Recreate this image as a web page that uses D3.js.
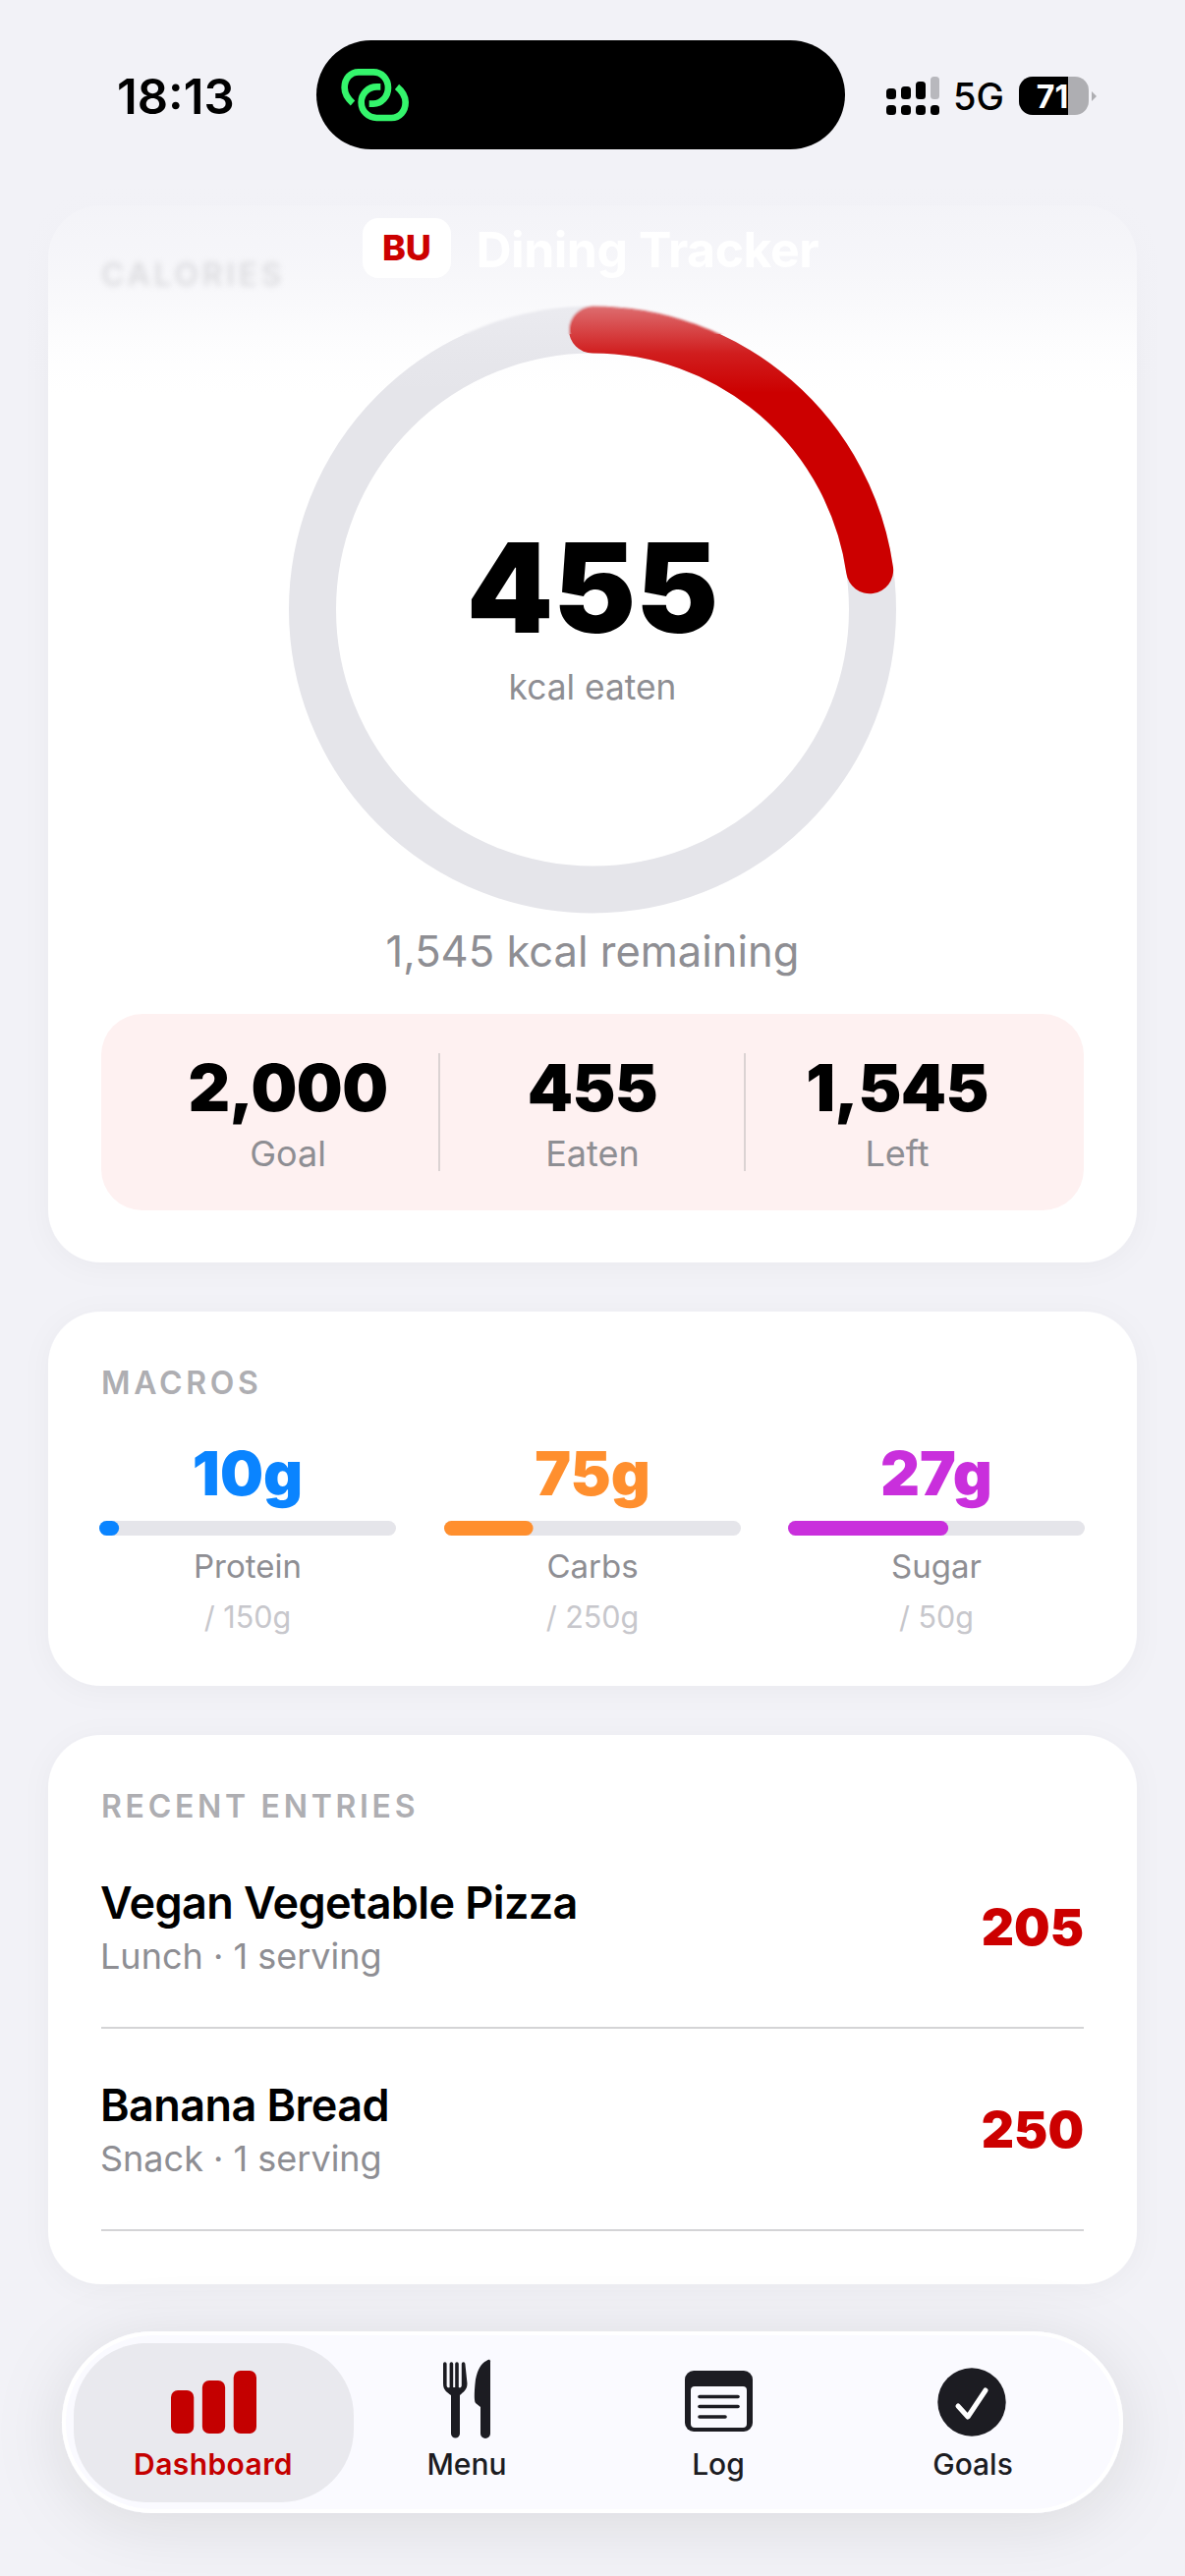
<!DOCTYPE html>
<html><head><meta charset="utf-8">
<script src="https://cdn.jsdelivr.net/npm/d3@7/dist/d3.min.js"></script>
<style>html,body{margin:0;padding:0;background:#f2f2f7;overflow:hidden}svg{display:block}text{font-family:Inter,"Noto Sans",sans-serif}</style>
</head><body><svg id="c" width="1206" height="2622" viewBox="0 0 1206 2622"></svg>
<script>
const calorieGoal = 2000;
const calorieEaten = 455;
const calorieLeft = 1545;
const summaryLabels = ["Goal","Eaten","Left"];
const summaryValues = [2000,455,1545];
const macroNames = ["Protein","Carbs","Sugar"];
const macroValues = [10,75,27];
const macroGoals = [150,250,50];
const macroColors = ["#0a84ff","#ff8f2e","#c92fdc"];
const entryNames = ["Vegan Vegetable Pizza","Banana Bread"];
const entryMeals = ["Lunch · 1 serving","Snack · 1 serving"];
const entryCalories = [205,250];
const tabLabels = ["Dashboard","Menu","Log","Goals"];
const dashBars = [44,54,64];

const W=1206,H=2622,RED="#cc0000",GREY="#8e8e93",BG="#f2f2f7",INK="#1c1c22";
const fmt=d3.format(",");
const svg=d3.select("#c");
const defs=svg.append("defs");
function T(p,x,y,s,size,weight,fill,anchor,ls){
  return p.append("text").attr("x",x).attr("y",y).text(s)
   .attr("font-size",size).attr("font-weight",weight).attr("fill",fill)
   .attr("text-anchor",anchor||"start").attr("letter-spacing",ls||0);
}
// filters
const sh=(id,dy,sd,op)=>{const f=defs.append("filter").attr("id",id).attr("x","-30%").attr("y","-50%").attr("width","160%").attr("height","200%");
 f.append("feDropShadow").attr("dx",0).attr("dy",dy).attr("stdDeviation",sd).attr("flood-color","#000").attr("flood-opacity",op);};
sh("cardS",4,14,0.035); sh("tabS",10,34,0.10);
defs.append("filter").attr("id","blurA").attr("x","-20%").attr("y","-50%").attr("width","140%").attr("height","200%").append("feGaussianBlur").attr("stdDeviation",3.2);
defs.append("filter").attr("id","blurB").attr("filterUnits","userSpaceOnUse").attr("x",200).attr("y",250).attr("width",800).attr("height",200).append("feGaussianBlur").attr("stdDeviation",1.2);
defs.append("clipPath").attr("id","upper").append("rect").attr("x",200).attr("y",250).attr("width",800).attr("height",90);
defs.append("clipPath").attr("id","lower").append("rect").attr("x",200).attr("y",340).attr("width",800).attr("height",700);
const fade=defs.append("linearGradient").attr("id","fade").attr("x1",0).attr("x2",0).attr("y1",0).attr("y2",1);
[[0,1],[0.45,0.97],[0.52,0.90],[0.66,0.70],[0.78,0.45],[0.90,0.12],[1,0]].forEach(s=>fade.append("stop").attr("offset",s[0]).attr("stop-color",BG).attr("stop-opacity",s[1]));

svg.append("rect").attr("width",W).attr("height",H).attr("fill",BG);

// cards
[[209,1285],[1335,1716],[1766,2325]].forEach(c=>svg.append("rect").attr("x",49).attr("y",c[0]).attr("width",1108).attr("height",c[1]-c[0]).attr("rx",54).attr("fill","#fff").attr("filter","url(#cardS)"));

// ring
const CX=603,CY=620.5,R=285,SW=48;
const angle=d3.scaleLinear().domain([0,calorieGoal]).range([-Math.PI/2,1.5*Math.PI]);
const arcD=v=>{const p=d3.path();p.arc(CX,CY,R,angle(0),angle(v));return p.toString();};
function ring(g){
  g.append("circle").attr("cx",CX).attr("cy",CY).attr("r",R).attr("fill","none").attr("stroke","#e5e5ea").attr("stroke-width",SW);
  g.append("path").attr("d",arcD(calorieEaten)).attr("fill","none").attr("stroke",RED).attr("stroke-width",SW).attr("stroke-linecap","round");
}
ring(svg.append("g").attr("clip-path","url(#lower)"));
ring(svg.append("g").attr("clip-path","url(#upper)").append("g").attr("filter","url(#blurB)"));

// top fade overlay
svg.append("rect").attr("x",0).attr("y",0).attr("width",W).attr("height",400).attr("fill","url(#fade)");
T(svg,103,291,"CALORIES",32,600,"#aeaeb2","start",3.7).attr("filter","url(#blurA)").attr("opacity",0.38);

// header
svg.append("rect").attr("x",369).attr("y",222).attr("width",90).attr("height",61).attr("rx",16).attr("fill","#fff");
T(svg,414,265,"BU",36,800,RED,"middle");
T(svg,484.5,272,"Dining Tracker",50,700,"#ffffff","start",-0.5);

// ring centre
T(svg,603,644,fmt(calorieEaten),126,900,"#000","middle");
T(svg,603,712,"kcal eaten",35.3,400,GREY,"middle");
T(svg,603,984,fmt(calorieLeft)+" kcal remaining",43.5,400,GREY,"middle");

// summary box
svg.append("rect").attr("x",103).attr("y",1032).attr("width",1000).attr("height",200).attr("rx",42).attr("fill","#fef1f1");
const sumX=d3.scalePoint().domain(summaryLabels).range([293,913]);
summaryLabels.forEach((l,i)=>{
  T(svg,sumX(l),1131,fmt(summaryValues[i]),66,900,"#000","middle",-0.6);
  T(svg,sumX(l),1187,l,36,400,GREY,"middle");
});
[447,758].forEach(x=>svg.append("line").attr("x1",x).attr("x2",x).attr("y1",1072).attr("y2",1192).attr("stroke","#cfc8c9").attr("stroke-width",1.5));

// macros
T(svg,103,1419,"MACROS",32,600,"#aeaeb2","start",3.7);
const macroX=[101,452,802],trackW=302;
macroNames.forEach((n,i)=>{
  const x0=macroX[i],cx=x0+trackW/2;
  const sc=d3.scaleLinear().domain([0,macroGoals[i]]).range([0,trackW]);
  T(svg,cx,1522,macroValues[i]+"g",62,900,macroColors[i],"middle");
  svg.append("rect").attr("x",x0).attr("y",1548).attr("width",trackW).attr("height",15).attr("rx",7.5).attr("fill","#e5e5ea");
  svg.append("rect").attr("x",x0).attr("y",1548).attr("width",sc(macroValues[i])).attr("height",15).attr("rx",7.5).attr("fill",macroColors[i]);
  T(svg,cx,1606,n,33,400,GREY,"middle");
  T(svg,cx,1657,"/ "+macroGoals[i]+"g",30.5,400,"#c7c7cc","middle");
});

// recent
T(svg,103,1850,"RECENT ENTRIES",32,600,"#aeaeb2","start",3.7);
const entryY=d3.scalePoint().domain(entryNames).range([0,206]);
entryNames.forEach((n,i)=>{
  const d=entryY(n);
  T(svg,102,1953+d,n,45,600,"#000","start",-0.6);
  T(svg,102,2004+d,entryMeals[i],36,400,GREY);
  T(svg,1103,1980+d,fmt(entryCalories[i]),51.5,900,RED,"end");
  svg.append("line").attr("x1",103).attr("x2",1103).attr("y1",2064+d).attr("y2",2064+d).attr("stroke","#c6c6c8").attr("stroke-width",1.5);
});

// tab bar
svg.append("rect").attr("x",63).attr("y",2373).attr("width",1080).attr("height",185).attr("rx",92.5).attr("fill","#fafaff").attr("filter","url(#tabS)");
svg.append("rect").attr("x",65).attr("y",2375).attr("width",1076).attr("height",181).attr("rx",90.5).attr("fill","none").attr("stroke","#fff").attr("stroke-width",4);
svg.append("rect").attr("x",75).attr("y",2385).attr("width",285).attr("height",162).attr("rx",74).attr("fill","#e9e9ee");
const tabX=[217,475,731,990];
tabLabels.forEach((l,i)=>T(svg,tabX[i],2519,l,30,i?500:600,i?INK:"#c40000","middle",i?0:0.4));
// dashboard icon
const barX=d3.scaleBand().domain(d3.range(dashBars.length)).range([174,261]).paddingInner(0.27);
dashBars.forEach((h,i)=>svg.append("rect").attr("x",barX(i)).attr("y",2477-h).attr("width",barX.bandwidth()).attr("height",h).attr("rx",7).attr("fill","#c40000"));
// fork & knife
svg.append("path").attr("fill",INK).attr("d","M451,2406a1.8,1.8 0 0 1 3.6,0V2428a2,2 0 0 0 3,2V2406a1.8,1.8 0 0 1 3.6,0V2430h2V2406a1.8,1.8 0 0 1 3.6,0V2430a2,2 0 0 0 3,-2V2406a1.8,1.8 0 0 1 3.6,0L475.5,2426C475.5,2433 471,2435 468,2438V2477a4.5,4.5 0 0 1 -9,0V2438C455,2435 451,2433 451,2426Z");
svg.append("path").attr("fill",INK).attr("d","M498.5,2402a2.5,2.5 0 0 1 .5,2.5V2477a5,5 0 0 1 -10,0V2450L484,2446C482,2444 483,2430 484,2422C486,2412 490,2405 495,2403C496.5,2402 498,2401.5 498.5,2402Z");
// log icon
svg.append("rect").attr("x",697).attr("y",2413).attr("width",69).attr("height",62).attr("rx",9).attr("fill",INK);
svg.append("rect").attr("x",703).attr("y",2429).attr("width",57).attr("height",42).attr("rx",4).attr("fill","#fafaff");
[[712,751,2439.5],[712,751,2449.5],[712,738,2460]].forEach(l=>svg.append("line").attr("x1",l[0]).attr("x2",l[1]).attr("y1",l[2]).attr("y2",l[2]).attr("stroke",INK).attr("stroke-width",3.6).attr("stroke-linecap","round"));
// goals icon
svg.append("circle").attr("cx",989).attr("cy",2445).attr("r",34.7).attr("fill",INK);
svg.append("path").attr("d",d3.line()([[975,2449],[985,2460],[1003,2433]])).attr("fill","none").attr("stroke","#fff").attr("stroke-width",5).attr("stroke-linecap","round").attr("stroke-linejoin","round");

// status bar
T(svg,119,116,"18:13",49,600,"#000");
svg.append("rect").attr("x",322).attr("y",41).attr("width",538).attr("height",111).attr("rx",55.5).attr("fill","#000");
const link=svg.append("g").attr("transform","translate(335,60) scale(0.3333)").attr("fill","none").attr("stroke","#34f56c").attr("stroke-width",20).attr("stroke-linecap","butt");
link.append("path").attr("d","M72,135C55,120 47,105 47,88C47,60 65,40 90,40L135,40C160,40 180,60 180,88C180,115 160,137 135,137L122,137");
link.append("path").attr("d","M207,85C225,100 233,115 233,132C233,160 215,180 190,180L145,180C120,180 98,160 98,132C98,105 120,85 145,85L157,85");
[902,917,932,947].forEach((x,i)=>{
  const tops=[90,88,83,78],w=i==3?9:10;
  svg.append("rect").attr("x",x).attr("y",107).attr("width",w).attr("height",10).attr("rx",3.5).attr("fill","#000");
  svg.append("rect").attr("x",x).attr("y",tops[i]).attr("width",w).attr("height",101-tops[i]).attr("rx",3.5).attr("fill",i==3?"#b8b8bd":"#000");
});
T(svg,970,112,"5G",38,500,"#000");
defs.append("clipPath").attr("id","bat").append("rect").attr("x",1037).attr("y",78).attr("width",71).attr("height",39).attr("rx",14);
const bat=svg.append("g").attr("clip-path","url(#bat)");
bat.append("rect").attr("x",1037).attr("y",78).attr("width",71).attr("height",39).attr("fill","#aeaeb2");
bat.append("rect").attr("x",1037).attr("y",78).attr("width",50).attr("height",39).attr("fill","#000");
defs.append("clipPath").attr("id","bat2").append("rect").attr("x",1037).attr("y",78).attr("width",50).attr("height",39);
T(svg.append("g").attr("clip-path","url(#bat2)"),1071,110,"71",32,700,"#fff","middle");
svg.append("path").attr("d","M1111,93L1116,98L1111,103Z").attr("fill","#aeaeb2");
</script></body></html>
